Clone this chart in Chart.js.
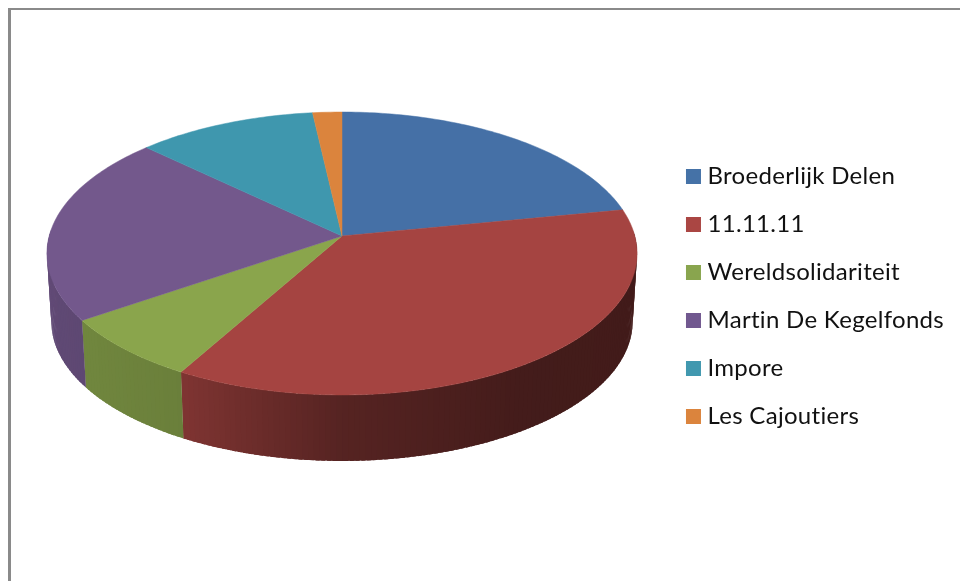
<!DOCTYPE html>
<html>
<head>
<meta charset="utf-8">
<title>Pie</title>
<script src="https://cdn.jsdelivr.net/npm/chart.js@4"></script>
<style>
    html, body { margin: 0; background: #fff; }
    #wrap { position: relative; width: 960px; height: 581px; overflow: hidden; }
    #frame {
        position: absolute; left: 8px; top: 8px; right: 0; bottom: 0;
        border-left: 3px solid #8a8a8a; border-top: 2px solid #8a8a8a;
    }
    #chart { position: absolute; left: 0; top: 0; }
</style>
</head>
<body>
<div id="wrap">
    <div id="frame"></div>
    <canvas id="chart" width="960" height="581"></canvas>
</div>
<script>
const categories = ["Broederlijk Delen", "11.11.11", "Wereldsolidariteit", "Martin De Kegelfonds", "Impore", "Les Cajoutiers"];
const shares = [21.9, 36.2, 7.3, 21.6, 11.1, 1.8];
const topColors = ["#4570a6", "#a54441", "#8aa54c", "#73588c", "#3f97ae", "#db843d"];
const legendColors = ["#4572a7", "#aa4643", "#89a54e", "#71588f", "#4198af", "#db843d"];

// perspective of the disc, measured on the picture
const apexX = 342, apexY = 236;
const discA = 292.8, discB = 139.3, discK = 0.1236;
const wallDrop = 68.4, wallScale = 0.985;

function project(angle, level) {
    const u = Math.cos(angle);
    const v = -Math.sin(angle);
    const w = 1 + discK * v;
    const s = level ? wallScale : 1;
    return {
        x: apexX + s * discA * u / w,
        y: apexY + (level ? wallDrop : 0) - s * discB * v / w
    };
}

// wall gets darker towards the right
function wallShade(u) {
    const stops = [[-1, 0.84], [-0.49, 0.77], [0, 0.52], [0.55, 0.41], [1, 0.40]];
    for (let i = 1; i < stops.length; i++) {
        if (u <= stops[i][0]) {
            const t = (u - stops[i - 1][0]) / (stops[i][0] - stops[i - 1][0]);
            return stops[i - 1][1] + t * (stops[i][1] - stops[i - 1][1]);
        }
    }
    return 0.40;
}

function shade(hex, f) {
    const n = parseInt(hex.slice(1), 16);
    return `rgb(${Math.round((n >> 16) * f)}, ${Math.round(((n >> 8) & 255) * f)}, ${Math.round((n & 255) * f)})`;
}

const pie3d = {
    id: 'pie3d',
    beforeLayout(chart) {
        // legend text in the picture runs a bit wide
        chart.ctx.letterSpacing = '0.3px';
    },
    beforeDatasetDraw(chart, args) {
        const ctx = chart.ctx;
        const arcs = chart.getDatasetMeta(args.index).data;
        const step = Math.PI / 180;

        ctx.save();

        // side walls, only the part facing us
        arcs.forEach((arc, i) => {
            for (let a = arc.startAngle; a < arc.endAngle; a += step) {
                const b = Math.min(a + step, arc.endAngle);
                if (-Math.sin(a) > 0.02 && -Math.sin(b) > 0.02) continue;
                // each strip runs under the next one so no seams show
                const over = Math.min(b + step * 0.7, arc.endAngle);
                const p1 = project(a, 0), p2 = project(over, 0);
                const p3 = project(over, 1), p4 = project(a, 1);
                ctx.beginPath();
                ctx.moveTo(p1.x, p1.y);
                ctx.lineTo(p2.x, p2.y);
                ctx.lineTo(p3.x, p3.y);
                ctx.lineTo(p4.x, p4.y);
                ctx.closePath();
                ctx.fillStyle = shade(topColors[i], wallShade(Math.cos((a + b) / 2)));
                ctx.fill();
            }
        });

        // top of the pie
        arcs.forEach((arc, i) => {
            ctx.beginPath();
            ctx.moveTo(apexX, apexY);
            for (let a = arc.startAngle; a < arc.endAngle; a += step) {
                const p = project(a, 0);
                ctx.lineTo(p.x, p.y);
            }
            const end = project(arc.endAngle, 0);
            ctx.lineTo(end.x, end.y);
            ctx.closePath();
            ctx.fillStyle = topColors[i];
            ctx.strokeStyle = topColors[i];
            ctx.lineWidth = 0.5;
            ctx.fill();
            ctx.stroke();
        });

        ctx.restore();
        return false;
    }
};

new Chart(document.getElementById("chart"), {
    type: 'pie',
    data: {
        labels: categories,
        datasets: [{
            data: shares,
            backgroundColor: legendColors,
            borderWidth: 0
        }]
    },
    options: {
        responsive: false,
        animation: false,
        layout: { padding: { top: 12, right: 6 } },
        plugins: {
            tooltip: { enabled: false },
            legend: {
                display: true,
                position: 'right',
                align: 'center',
                labels: {
                    usePointStyle: true,
                    pointStyle: 'rect',
                    boxWidth: 4,
                    boxHeight: 15,
                    padding: 24,
                    color: '#111',
                    font: { family: 'Lato', size: 24 }
                }
            }
        }
    },
    plugins: [pie3d]
});
</script>
</body>
</html>
